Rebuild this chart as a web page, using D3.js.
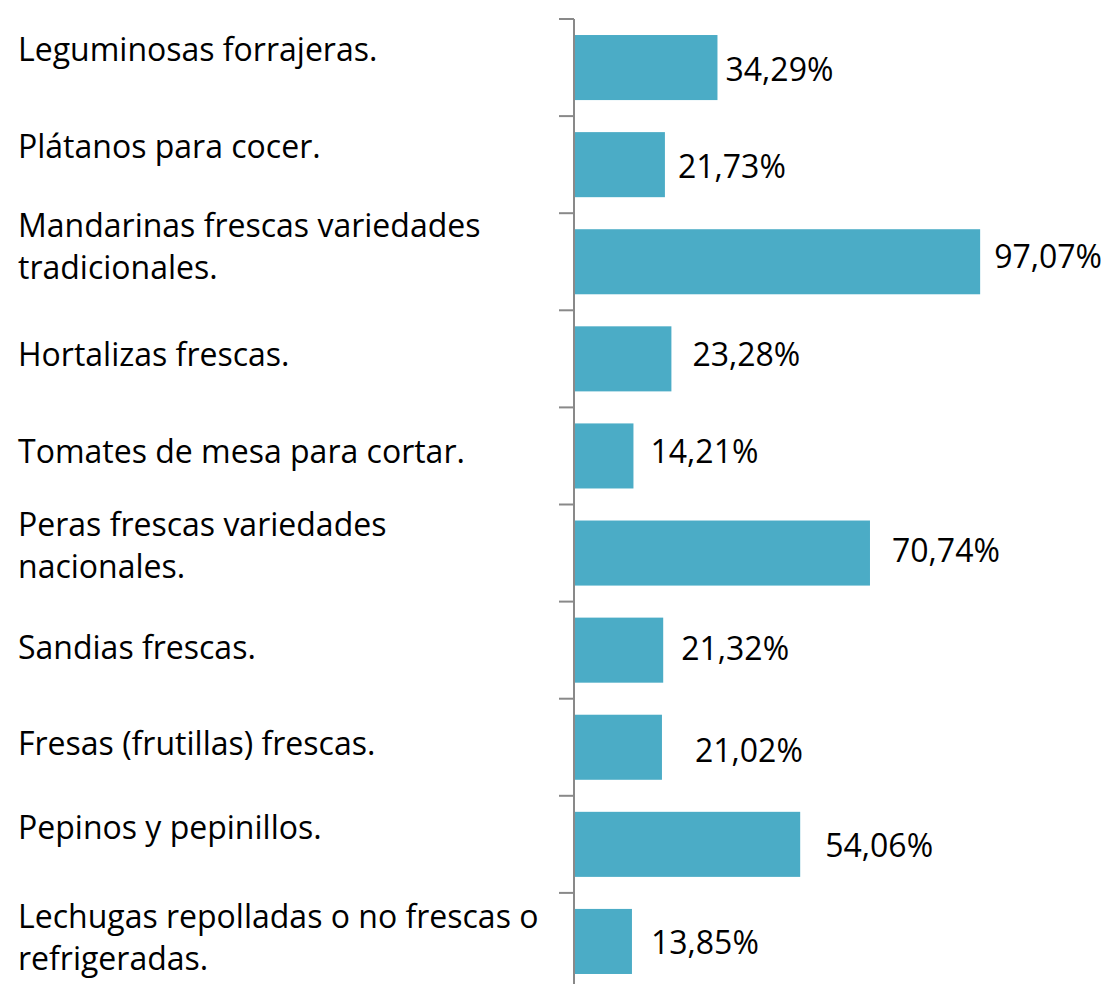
<!DOCTYPE html>
<html><head><meta charset="utf-8">
<script src="https://cdn.jsdelivr.net/npm/d3@7/dist/d3.min.js"></script>
<style>body{margin:0;background:#fff}svg{display:block}text{font-family:"Open Sans",Lato,sans-serif;fill:#000}</style>
</head><body><svg id="c" width="1112" height="984"></svg>
<script>
const categories = [
  ["Leguminosas forrajeras."],
  ["Plátanos para cocer."],
  ["Mandarinas frescas variedades","tradicionales."],
  ["Hortalizas frescas."],
  ["Tomates de mesa para cortar."],
  ["Peras frescas variedades","nacionales."],
  ["Sandias frescas."],
  ["Fresas (frutillas) frescas."],
  ["Pepinos y pepinillos."],
  ["Lechugas repolladas o no frescas o","refrigeradas."]
];
const values = [34.29, 21.73, 97.07, 23.28, 14.21, 70.74, 21.32, 21.02, 54.06, 13.85];
const valueLabels = ["34,29%","21,73%","97,07%","23,28%","14,21%","70,74%","21,32%","21,02%","54,06%","13,85%"];
// layout nudges (label placement in the original was manually adjusted)
const valueLabelDx = [8,13,14,21,17,22,18,33,25,19];
const valueLabelDy = [13.5,13.5,6,7,7,9,10,14.5,12.5,12.5];
const catLabelDy = [-6.5,-6.5,-25,7,7,-17,9,8,-5.5,-13.5];

const svg = d3.select("#c");
const ids = categories.map((d,i)=>i);
const y = d3.scaleBand().domain(ids).range([19, 990]).paddingInner(0.33).paddingOuter(0.165);
const x = d3.scaleLinear().domain([0,100]).range([574, 992.4]);

svg.selectAll("rect.bar").data(values).join("rect").attr("class","bar")
  .attr("x", x(0)).attr("y",(d,i)=>y(i)).attr("height", y.bandwidth())
  .attr("width", d=>x(d)-x(0)).attr("fill","#4bacc6");

// axis: ticks at band boundaries
const step = y.step();
const bounds = d3.range(categories.length+1).map(i=>y.range()[0]+i*step);
const ax = svg.append("g");
ax.append("line").attr("x1",x(0)).attr("x2",x(0)).attr("y1",bounds[0]).attr("y2",bounds[bounds.length-1])
  .attr("stroke","#898989").attr("stroke-width",2);
ax.selectAll("line.t").data(bounds).join("line").attr("class","t")
  .attr("x1",x(0)-15).attr("x2",x(0)).attr("y1",d=>d).attr("y2",d=>d)
  .attr("stroke","#898989").attr("stroke-width",2);

svg.selectAll("text.v").data(values).join("text").attr("class","v")
  .attr("x",(d,i)=>x(d)+valueLabelDx[i])
  .attr("y",(d,i)=>y(i)+y.bandwidth()/2+valueLabelDy[i])
  .attr("font-size",32)
  .text((d,i)=>valueLabels[i]);

const lh = 42;
categories.forEach((lines,i)=>{
  const by = y(i)+y.bandwidth()/2+catLabelDy[i];
  const t = svg.append("text").attr("x",18).attr("font-size",32);
  lines.forEach((ln,j)=>{
    t.append("tspan").attr("x",18).attr("y", by + j*lh).text(ln);
  });
});
</script></body></html>
